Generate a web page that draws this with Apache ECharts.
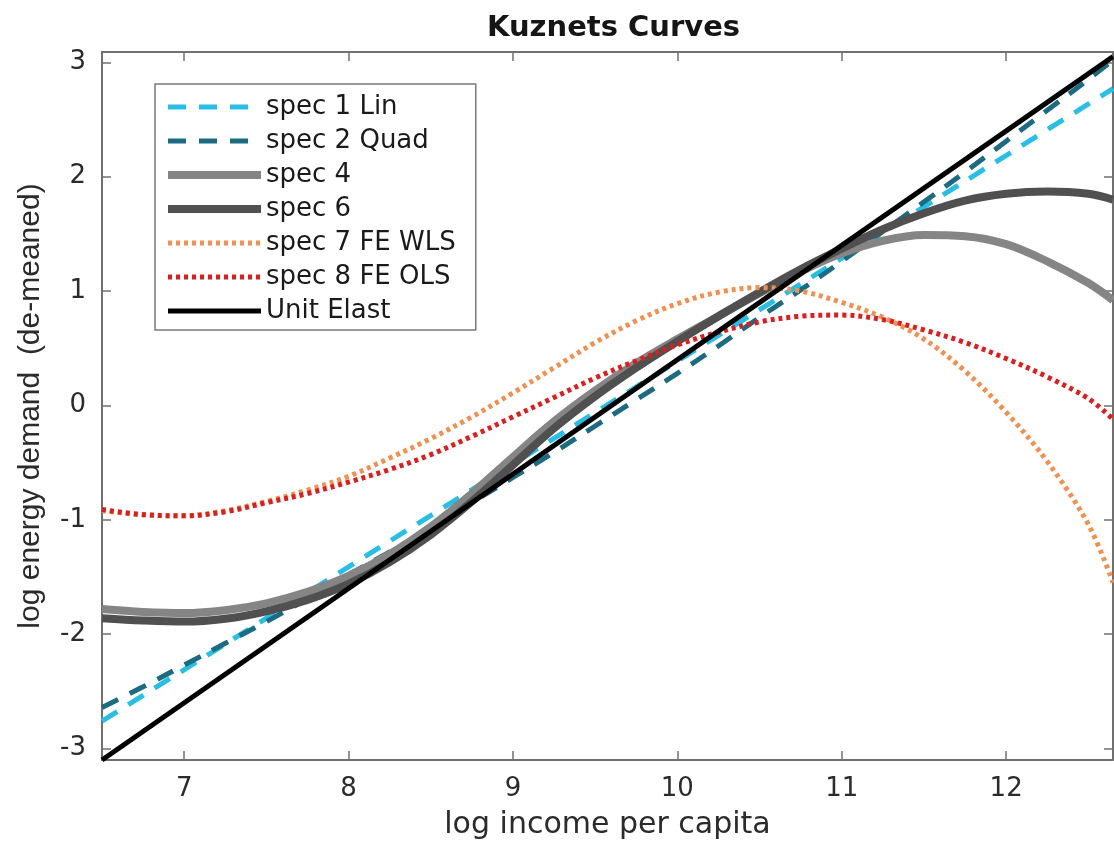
<!DOCTYPE html>
<html><head><meta charset="utf-8">
<script src="https://cdn.jsdelivr.net/npm/echarts@6/dist/echarts.min.js"></script>
<style>html,body{margin:0;padding:0;background:#fff}#c{width:1114px;height:845px}</style>
</head><body><div id="c"></div>
<script>
// ---- data ----
const chartTitle = 'Kuznets Curves';
const xAxisTitle = 'log income per capita';
const yAxisTitle = 'log energy demand  (de-meaned)';
const seriesNames = ['spec 1 Lin', 'spec 2 Quad', 'spec 4', 'spec 6', 'spec 7 FE WLS', 'spec 8 FE OLS', 'Unit Elast'];
const xTicks = [7, 8, 9, 10, 11, 12];
const yTicks = [-3, -2, -1, 0, 1, 2, 3];
const incomeGrid = [6.5, 6.75, 7, 7.25, 7.5, 7.75, 8, 8.25, 8.5, 8.75, 9, 9.25, 9.5, 9.75, 10, 10.25, 10.5, 10.75, 11, 11.25, 11.5, 11.75, 12, 12.25, 12.5, 12.65];
const spec2Quad = [-2.64, -2.46, -2.27, -2.08, -1.89, -1.69, -1.48, -1.28, -1.07, -0.85, -0.63, -0.41, -0.18, 0.05, 0.28, 0.52, 0.77, 1.01, 1.26, 1.52, 1.78, 2.04, 2.31, 2.58, 2.85, 3.02];
const spec4 = [-1.78, -1.805, -1.815, -1.79, -1.73, -1.63, -1.49, -1.30, -1.06, -0.77, -0.45, -0.14, 0.13, 0.37, 0.58, 0.78, 0.98, 1.17, 1.33, 1.44, 1.49, 1.48, 1.41, 1.26, 1.07, 0.92];
const spec6 = [-1.86, -1.88, -1.89, -1.865, -1.80, -1.70, -1.56, -1.37, -1.13, -0.84, -0.52, -0.20, 0.08, 0.33, 0.56, 0.78, 0.99, 1.19, 1.37, 1.54, 1.68, 1.79, 1.85, 1.87, 1.85, 1.80];
const spec7FEWLS = [-0.92, -0.955, -0.965, -0.92, -0.84, -0.74, -0.62, -0.46, -0.29, -0.10, 0.11, 0.33, 0.55, 0.74, 0.89, 0.99, 1.03, 1.00, 0.90, 0.77, 0.58, 0.30, -0.06, -0.49, -1.04, -1.55];
const spec8FEOLS = [-0.91, -0.955, -0.965, -0.93, -0.85, -0.77, -0.67, -0.56, -0.43, -0.27, -0.10, 0.07, 0.24, 0.39, 0.53, 0.64, 0.73, 0.78, 0.79, 0.75, 0.66, 0.55, 0.41, 0.25, 0.06, -0.12];
const lineEndsX = [6.5, 12.65];
const spec1Lin = [-2.76, 2.77];
const unitElast = [-3.1, 3.05];
const xRange = [6.5, 12.65];
const yRange = [-3.1, 3.09];

const pairs = (xs, ys) => xs.map((x, i) => [x, ys[i]]);

const axisColor = '#707070';
const labelFont = { fontFamily: 'DejaVu Sans', fontSize: 26, color: '#2b2b2b' };

function xAx(pos, showLabels) {
  return {
    type: 'value', position: pos, min: xRange[0], max: xRange[1],
    axisLine: { show: true, onZero: false, lineStyle: { color: axisColor, width: 2 } },
    axisTick: { show: true, inside: true, length: 9, customValues: xTicks, lineStyle: { color: axisColor, width: 1.5 } },
    axisLabel: Object.assign({ show: showLabels, margin: 16, customValues: xTicks }, labelFont),
    splitLine: { show: false },
    name: showLabels ? xAxisTitle : '', nameLocation: 'middle', nameGap: 50,
    nameTextStyle: { fontFamily: 'DejaVu Sans', fontSize: 30, color: '#2b2b2b' }
  };
}
function yAx(pos, showLabels) {
  return {
    type: 'value', position: pos, min: yRange[0], max: yRange[1],
    axisLine: { show: true, onZero: false, lineStyle: { color: axisColor, width: 2 } },
    axisTick: { show: true, inside: true, length: 9, customValues: yTicks, lineStyle: { color: axisColor, width: 1.5 } },
    axisLabel: Object.assign({ show: showLabels, margin: 16, customValues: yTicks }, labelFont),
    splitLine: { show: false },
    name: showLabels ? yAxisTitle : '', nameLocation: 'middle', nameGap: 56,
    nameTextStyle: { fontFamily: 'Liberation Sans', fontSize: 30, color: '#2b2b2b' }
  };
}

function lineSeries(name, data, color, width, type, smooth) {
  return {
    name, type: 'line', data, xAxisIndex: 0, yAxisIndex: 0,
    symbol: 'none', smooth: smooth, clip: true,
    lineStyle: { color, width, type, cap: 'butt' },
    itemStyle: { color },
    emphasis: { disabled: true }
  };
}

const chart = echarts.init(document.getElementById('c'), null, { renderer: 'canvas' });
chart.setOption({
  animation: false,
  backgroundColor: '#ffffff',
  title: {
    text: chartTitle, left: 482, top: 9,
    textStyle: { fontFamily: 'DejaVu Sans', fontWeight: 'bold', fontSize: 29, color: '#151515' }
  },
  grid: { left: 102, top: 52, right: 1, bottom: 85, containLabel: false, outerBoundsMode: 'none' },
  xAxis: [xAx('bottom', true), xAx('top', false)],
  yAxis: [yAx('left', true), yAx('right', false)],
  legend: {
    orient: 'vertical', left: 155, top: 84,
    backgroundColor: '#ffffff', borderColor: '#7a7a7a', borderWidth: 1.5,
    padding: [10, 20, 6, 9],
    itemWidth: 93, itemHeight: 20, itemGap: 8,
    itemStyle: { opacity: 0, borderWidth: 0 },
    lineStyle: { width: 'inherit', type: 'inherit', color: 'inherit', cap: 'butt' },
    textStyle: { fontFamily: 'DejaVu Sans', fontSize: 26, color: '#1a1a1a' },
    data: seriesNames
  },
  series: [
    lineSeries(seriesNames[0], pairs(lineEndsX, spec1Lin), '#27bfe6', 5, [18, 13], false),
    lineSeries(seriesNames[1], pairs(incomeGrid, spec2Quad), '#1b6b82', 5, [18, 13], 0.35),
    lineSeries(seriesNames[2], pairs(incomeGrid, spec4), '#858585', 8, 'solid', 0.35),
    lineSeries(seriesNames[3], pairs(incomeGrid, spec6), '#505050', 8, 'solid', 0.35),
    lineSeries(seriesNames[4], pairs(incomeGrid, spec7FEWLS), '#f29050', 5, [4, 4], 0.35),
    lineSeries(seriesNames[5], pairs(incomeGrid, spec8FEOLS), '#de1d1d', 5, [4, 4], 0.35),
    lineSeries(seriesNames[6], pairs(lineEndsX, unitElast), '#000000', 5, 'solid', false)
  ]
});
</script>
</body></html>
